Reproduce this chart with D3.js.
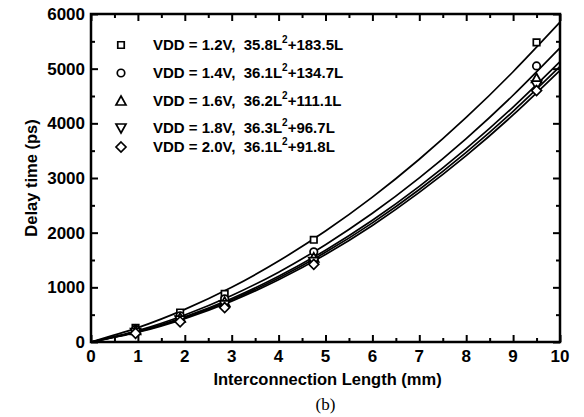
<!DOCTYPE html>
<html>
<head>
<meta charset="utf-8">
<script src="https://cdn.jsdelivr.net/npm/d3@7"></script>
<style>
  body { margin: 0; background: white; }
  text { font-family: "Liberation Sans", Arial, sans-serif; font-weight: bold; fill: black; }
</style>
</head>
<body>
<div id="chart"></div>
<script>
// fitted curves at whole millimetres
const curveX = [0, 1, 2, 3, 4, 5, 6, 7, 8, 9, 10];
const curve12 = [0, 263, 597, 1000, 1481, 2030, 2650, 3343, 4107, 4944, 5850];
const curve14 = [0, 210, 494, 850, 1278, 1780, 2354, 3002, 3722, 4514, 5380];
const curve16 = [0, 194, 460, 796, 1202, 1680, 2228, 2848, 3538, 4298, 5130];
const curve18 = [0, 187, 445, 773, 1171, 1640, 2179, 2789, 3469, 4219, 5040];
const curve20 = [0, 178, 428, 748, 1138, 1600, 2132, 2736, 3410, 4154, 4970];

// measured points
const pointX = [0.95, 1.9, 2.85, 4.75, 9.5];
const points12 = [260, 540, 880, 1870, 5480];
const points14 = [230, 480, 790, 1650, 5050];
const points16 = [210, 440, 730, 1540, 4820];
const points18 = [170, 400, 680, 1470, 4700];
const points20 = [160, 370, 630, 1420, 4600];

const legendLabels = ["VDD = 1.2V,  35.8L", "VDD = 1.4V,  36.1L", "VDD = 1.6V,  36.2L", "VDD = 1.8V,  36.3L", "VDD = 2.0V,  36.1L"];
const legendTails = ["+183.5L", "+134.7L", "+111.1L", "+96.7L", "+91.8L"];
const symbols = ["square", "circle", "up", "down", "diamond"];

const xTicks = [0, 1, 2, 3, 4, 5, 6, 7, 8, 9, 10];
const yTicks = [0, 1000, 2000, 3000, 4000, 5000, 6000];

const margin = { top: 14, right: 24, bottom: 75, left: 91 };
const width = 584 - margin.left - margin.right;
const height = 417 - margin.top - margin.bottom;

const svg = d3.select("#chart")
  .append("svg")
  .attr("width", 584)
  .attr("height", 417);

const g = svg.append("g")
  .attr("transform", `translate(${margin.left},${margin.top})`);

const x = d3.scaleLinear().domain([0, 10]).range([0, width]);
const y = d3.scaleLinear().domain([0, 6000]).range([height, 0]);

// ticks, inward on all four sides
const xMinor = d3.range(0.5, 10, 1);
const yMinor = d3.range(500, 6000, 1000);

function tickAxis(axis, ticks, size) {
  return axis.tickValues(ticks).tickSize(size).tickFormat("");
}

g.append("g").attr("transform", `translate(0,${height})`).call(tickAxis(d3.axisTop(x), xTicks, 7));
g.append("g").attr("transform", `translate(0,${height})`).call(tickAxis(d3.axisTop(x), xMinor, 4));
g.append("g").call(tickAxis(d3.axisBottom(x), xTicks, 7));
g.append("g").call(tickAxis(d3.axisBottom(x), xMinor, 4));
g.append("g").call(tickAxis(d3.axisRight(y), yTicks, 7));
g.append("g").call(tickAxis(d3.axisRight(y), yMinor, 4));
g.append("g").attr("transform", `translate(${width},0)`).call(tickAxis(d3.axisLeft(y), yTicks, 7));
g.append("g").attr("transform", `translate(${width},0)`).call(tickAxis(d3.axisLeft(y), yMinor, 4));
g.selectAll(".domain").remove();
g.selectAll(".tick line").attr("stroke", "black").attr("stroke-width", 2);

g.append("rect")
  .attr("width", width)
  .attr("height", height)
  .attr("fill", "none")
  .attr("stroke", "black")
  .attr("stroke-width", 2.5);

// tick labels
g.selectAll(".xlab")
  .data(xTicks)
  .enter()
  .append("text")
  .attr("x", (d) => x(d))
  .attr("y", height + 20)
  .attr("text-anchor", "middle")
  .style("font-size", "17px")
  .text((d) => d);

g.selectAll(".ylab")
  .data(yTicks)
  .enter()
  .append("text")
  .attr("x", -6)
  .attr("y", (d) => y(d) + 6)
  .attr("text-anchor", "end")
  .style("font-size", "17px")
  .text((d) => d);

// axis titles
g.append("text")
  .attr("x", width / 2 + 2)
  .attr("y", height + 43)
  .attr("text-anchor", "middle")
  .style("font-size", "16.5px")
  .text("Interconnection Length (mm)");

g.append("text")
  .attr("transform", `translate(${-54},${height / 2}) rotate(-90)`)
  .attr("text-anchor", "middle")
  .style("font-size", "16.5px")
  .text("Delay time (ps)");

svg.append("text")
  .attr("x", margin.left + width / 2)
  .attr("y", 410)
  .attr("text-anchor", "middle")
  .style("font-family", "'Liberation Serif', serif")
  .style("font-weight", "normal")
  .style("font-size", "17px")
  .text("(b)");

// curves
const line = d3.line()
  .x((d) => x(d[0]))
  .y((d) => y(d[1]))
  .curve(d3.curveNatural);

const curves = [curve12, curve14, curve16, curve18, curve20];
curves.forEach((c) => {
  g.append("path")
    .datum(curveX.map((v, i) => [v, c[i]]))
    .attr("d", line)
    .attr("fill", "none")
    .attr("stroke", "black")
    .attr("stroke-width", 1.7);
});

// markers
function symbolPath(kind) {
  if (kind === "square") return d3.symbol(d3.symbolSquare, 42)();
  if (kind === "circle") return d3.symbol(d3.symbolCircle, 44)();
  if (kind === "diamond") return "M0,-5L5,0L0,5L-5,0Z";
  if (kind === "up") return "M0,-5L5,4L-5,4Z";
  return "M0,5L5,-4L-5,-4Z";
}

const pointSets = [points12, points14, points16, points18, points20];
pointSets.forEach((p, k) => {
  g.selectAll(null)
    .data(pointX.map((v, i) => [v, p[i]]))
    .enter()
    .append("path")
    .attr("d", symbolPath(symbols[k]))
    .attr("transform", (d) => `translate(${x(d[0])},${y(d[1])})`)
    .attr("fill", "white")
    .attr("stroke", "black")
    .attr("stroke-width", 1.7);
});

// legend
const legendY = [31, 59, 87, 114, 133];
legendLabels.forEach((label, i) => {
  g.append("path")
    .attr("d", symbolPath(symbols[i]))
    .attr("transform", `translate(30,${legendY[i]})`)
    .attr("fill", "white")
    .attr("stroke", "black")
    .attr("stroke-width", 1.7);

  const t = g.append("text")
    .attr("x", 62)
    .attr("y", legendY[i] + 5)
    .style("font-size", "15px")
    .attr("xml:space", "preserve");
  t.append("tspan").text(label);
  t.append("tspan").attr("dy", -7).style("font-size", "10px").text("2");
  t.append("tspan").attr("dy", 7).text(legendTails[i]);
});
</script>
</body>
</html>
